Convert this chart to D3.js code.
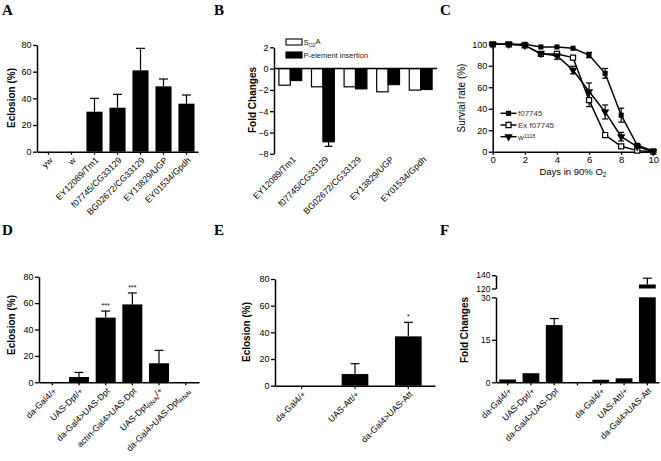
<!DOCTYPE html>
<html><head><meta charset="utf-8">
<script src="https://cdn.jsdelivr.net/npm/d3@7"></script>
<style>
body{margin:0;background:#fff;}
svg{display:block;font-family:"Liberation Sans",Arial,sans-serif;}
</style></head><body>
<svg id="c" width="661" height="461"></svg>
<script>
// ---------- DATA ----------
// Panel A
const catA = ["yw","w","EY12089/Tm1","f07745/CG33129","BG02672/CG33129","EY13829/UGP","EY01534/Gpdh"];
const valA = [0,0,30,33,61,49,36];
const errA = [0,0,10,10,16.5,5.5,6.5];
const ticksA = [0,20,40,60,80];
// Panel B
const catB = ["EY12089/Tm1","f07745/CG33129","BG02672/CG33129","EY13829/UGP","EY01534/Gpdh"];
const seriesB = ["S{O2}A","P-element insertion"];
const valB_SO2A = [-1.56,-1.71,-1.71,-2.18,-2.02];
const valB_P = [-1.12,-6.87,-1.9,-1.5,-1.96];
const errB_P = [0,0.43,0,0,0];
const ticksB = [2,0,-2,-4,-6,-8];
// Panel C
const daysC = [0,1,2,3,4,5,6,7,8,9,10];
const survF07745 = [100,100,100,97.5,97.5,96.3,90,73,34,6,0.6];
const errF07745 = [0,0,0,0,0,0,2.5,4.5,6.5,1.5,0];
const survEx = [100,100,99,91,91,87.6,48,15.5,5,1,0];
const errEx = [0,0,0,0,0,0,6,0,0,0,0];
const survW = [100,100,99,91.3,89.4,76,56,37,14,4.7,0];
const errW = [0,0,0,0,3.3,3.5,8,6.5,4,0,0];
const seriesC = ["f07745","Ex f07745","w^{1118}"];
const ticksCx = [0,2,4,6,8,10];
const ticksCy = [0,20,40,60,80,100];
// Panel D
const catD = ["da-Gal4/+","UAS-Dpt/+","da-Gal4>UAS-Dpt","actin-Gal4>UAS-Dpt","UAS-Dpt{RNAi}/+","da-Gal4>UAS-Dpt{RNAi}"];
const valD = [0,4,49,59,14.4,0];
const errD = [0,3.5,5,8.7,9.8,0];
const sigD = ["","","***","***","",""];
const ticksD = [0,20,40,60,80];
// Panel E
const catE = ["da-Gal4/+","UAS-Att/+","da-Gal4>UAS-Att"];
const valE = [0,8.75,37];
const errE = [0,7.75,10.5];
const sigE = ["","","*"];
const ticksE = [0,20,40,60,80];
// Panel F
const catF = ["da-Gal4/+","UAS-Dpt/+","da-Gal4>UAS-Dpt","","da-Gal4/+","UAS-Att/+","da-Gal4>UAS-Att"];
const valF = [1,3.2,20.2,null,0.9,1.4,126];
const errF = [0,0,2.3,0,0,0,9.5];
const ticksFlow = [0,15,30];
const ticksFhigh = [120,140];

// ---------- HELPERS ----------
const svg = d3.select("#c");
const FONT = "Liberation Sans, Arial, sans-serif";

function rich(textSel, str){
  const parts = str.split(/(\^\{[^}]*\}|\{[^}]*\})/).filter(s=>s.length);
  let shift = 0;
  parts.forEach(p=>{
    let t, target = 0, content = p, small=false;
    if (p.startsWith("^{")) { target = -0.35; content = p.slice(2,-1); small=true; }
    else if (p.startsWith("{")) { target = 0.3; content = p.slice(1,-1); small=true; }
    t = textSel.append("tspan").text(content);
    const d = target - shift;
    if (d !== 0) t.attr("dy", d + "em");
    shift = target;
    if (small) t.attr("font-size","70%");
  });
}

function styleAxis(g, fs){
  g.attr("font-family", FONT).attr("font-size", fs || 9);
  g.select(".domain").attr("stroke","#000").attr("stroke-width",1.5);
  g.selectAll(".tick line").attr("stroke","#000").attr("stroke-width",1.3);
  g.selectAll(".tick text").attr("fill","#000");
}

function letter(t, x, y){
  svg.append("text").attr("x",x).attr("y",y).attr("font-family","Liberation Serif, Times New Roman, serif")
    .attr("font-weight","bold").attr("font-size",15).text(t);
}

function yTitle(str, x, cy, bold){
  svg.append("text").attr("transform",`translate(${x},${cy}) rotate(-90)`)
    .attr("text-anchor","middle").attr("font-family",FONT).attr("font-size",10)
    .attr("font-weight", bold ? "bold" : "normal").text(str);
}

function xLabels(x, cats, y0, fs){
  cats.forEach((c,i)=>{
    if(!c) return;
    const cx = x(i) + x.bandwidth()/2;
    const t = svg.append("text").attr("transform",`translate(${cx+2.5},${y0+7}) rotate(-45)`)
      .attr("text-anchor","end").attr("dy","0.35em").attr("font-family",FONT).attr("font-size",fs||8.8);
    rich(t, c);
  });
}

function errBar(cx, yv, ye, cap){
  svg.append("line").attr("x1",cx).attr("x2",cx).attr("y1",yv).attr("y2",ye).attr("stroke","#000").attr("stroke-width",1.2);
  svg.append("line").attr("x1",cx-cap).attr("x2",cx+cap).attr("y1",ye).attr("y2",ye).attr("stroke","#000").attr("stroke-width",1.2);
}

function barPanel(o){
  const x = d3.scaleBand().domain(d3.range(o.cats.length)).range(o.xr).paddingInner(o.pi).paddingOuter(o.po);
  const y = d3.scaleLinear().domain(o.yd).range(o.yr);
  const bw = x.bandwidth();
  o.vals.forEach((v,i)=>{
    const cx = x(i)+bw/2;
    if (o.errs[i] > 0) errBar(cx, y(v), y(v+o.errs[i]), Math.min(4.5, bw/2.5));
    if (v > 0) svg.append("rect").attr("x",x(i)).attr("y",y(v)).attr("width",bw).attr("height",y(0)-y(v)).attr("fill","#000");
    if (o.sig && o.sig[i]) svg.append("text").attr("x",cx).attr("y",y(v+o.errs[i])-3).attr("text-anchor","middle")
        .attr("font-family",FONT).attr("font-size",7).text(o.sig[i]);
  });
  svg.append("g").attr("transform",`translate(0,${y(0)})`)
    .call(d3.axisBottom(x).tickSize(3).tickSizeOuter(0).tickFormat(""))
    .call(g=>styleAxis(g));
  svg.append("g").attr("transform",`translate(${o.xr[0]},0)`)
    .call(d3.axisLeft(y).tickValues(o.ticks).tickSize(4).tickSizeOuter(0).tickPadding(1.5))
    .call(g=>styleAxis(g));
  xLabels(x, o.cats, y(0));
}

// ---------- PANEL A ----------
letter("A", 2, 15);
barPanel({cats:catA, vals:valA, errs:errA, xr:[37,198], pi:0.3, po:0.15, yd:[0,80], yr:[151.7,45], ticks:ticksA});
yTitle("Eclosion (%)", 15, 98, true);

// ---------- PANEL B ----------
letter("B", 214, 15);
(function(){
  const x0 = d3.scaleBand().domain(d3.range(catB.length)).range([274,437]).paddingInner(0.3).paddingOuter(0.15);
  const x1 = d3.scaleBand().domain([0,1]).range([0,x0.bandwidth()]);
  const y = d3.scaleLinear().domain([-8,2]).range([153.8,47.3]);
  const fills = ["#fff","#000"];
  [valB_SO2A, valB_P].forEach((arr,s)=>{
    arr.forEach((v,i)=>{
      const bx = x0(i)+x1(s);
      if (s===1 && errB_P[i]>0) errBar(bx+x1.bandwidth()/2, y(v), y(v-errB_P[i]), 4);
      svg.append("rect").attr("x",bx).attr("y",y(0)).attr("width",x1.bandwidth()).attr("height",y(v)-y(0))
        .attr("fill",fills[s]).attr("stroke","#000").attr("stroke-width",1.2);
    });
  });
  svg.append("g").attr("transform",`translate(274,0)`)
    .call(d3.axisLeft(y).tickValues(ticksB).tickSize(4).tickSizeOuter(0).tickPadding(1.5))
    .call(g=>styleAxis(g));
  svg.append("line").attr("x1",274).attr("x2",437).attr("y1",y(0)).attr("y2",y(0)).attr("stroke","#000").attr("stroke-width",1.5);
  catB.forEach((c,i)=>{
    const cx = x0(i)+x0.bandwidth()/2;
    svg.append("text").attr("transform",`translate(${cx+4},${y(-8)+4}) rotate(-45)`)
      .attr("text-anchor","end").attr("dy","0.35em").attr("font-family",FONT).attr("font-size",8.8).text(c);
  });
  // legend
  seriesB.forEach((s,k)=>{
    const ly = 39 + k*13;
    svg.append("rect").attr("x",286).attr("y",ly).attr("width",16).attr("height",6)
      .attr("fill",fills[k]).attr("stroke","#000").attr("stroke-width",1.1);
    const t = svg.append("text").attr("x",303.5).attr("y",ly+6).attr("font-family",FONT).attr("font-size",7.5).attr("fill","#222");
    rich(t, s);
  });
  yTitle("Fold Changes", 256, 100, true);
})();

// ---------- PANEL C ----------
letter("C", 440, 15);
(function(){
  const x = d3.scaleLinear().domain([0,10]).range([492.7,653.3]);
  const y = d3.scaleLinear().domain([0,100]).range([151.7,44.3]);
  svg.append("g").attr("transform",`translate(0,${y(0)})`)
    .call(d3.axisBottom(x).tickValues(ticksCx).tickSize(3).tickSizeOuter(0).tickPadding(2))
    .call(g=>styleAxis(g,9.5));
  svg.append("g").attr("transform",`translate(${x(0)},0)`)
    .call(d3.axisLeft(y).tickValues(ticksCy).tickSize(4).tickSizeOuter(0).tickPadding(1.5))
    .call(g=>styleAxis(g,9));
  const series = [survF07745, survEx, survW];
  const errs = [errF07745, errEx, errW];
  const line = d3.line().x((d,i)=>x(daysC[i])).y(d=>y(d));
  series.forEach(s=>svg.append("path").attr("d",line(s)).attr("fill","none").attr("stroke","#000").attr("stroke-width",1.5));
  series.forEach((s,k)=>s.forEach((v,i)=>{
    if (errs[k][i]>0){
      const cx = x(daysC[i]);
      svg.append("line").attr("x1",cx).attr("x2",cx).attr("y1",y(v-errs[k][i])).attr("y2",y(v+errs[k][i])).attr("stroke","#000").attr("stroke-width",1.2);
      [v-errs[k][i], v+errs[k][i]].forEach(e=>svg.append("line").attr("x1",cx-3).attr("x2",cx+3).attr("y1",y(e)).attr("y2",y(e)).attr("stroke","#000").attr("stroke-width",1.2));
    }
  }));
  const sq = d3.symbol(d3.symbolSquare, 26);
  const tri = d3.symbol(d3.symbolTriangle, 30);
  function marker(k, cx, cy){
    if (k===0) svg.append("path").attr("d",sq()).attr("transform",`translate(${cx},${cy})`).attr("fill","#000");
    else if (k===1) svg.append("path").attr("d",sq()).attr("transform",`translate(${cx},${cy})`).attr("fill","#fff").attr("stroke","#000").attr("stroke-width",1.2);
    else svg.append("path").attr("d",tri()).attr("transform",`translate(${cx},${cy}) rotate(180)`).attr("fill","#000");
  }
  series.forEach((s,k)=>s.forEach((v,i)=>marker(k, x(daysC[i]), y(v))));
  seriesC.forEach((name,k)=>{
    const ly = 113.3 + k*11.7;
    svg.append("line").attr("x1",500.5).attr("x2",516.5).attr("y1",ly).attr("y2",ly).attr("stroke","#000").attr("stroke-width",1.5);
    marker(k, 508.5, ly);
    const t = svg.append("text").attr("x",518).attr("y",ly+3).attr("font-family",FONT).attr("font-size",8).attr("fill","#333");
    rich(t, name);
  });
  yTitle("Survial rate (%)", 465, 98, false);
  const t = svg.append("text").attr("x",573).attr("y",175).attr("text-anchor","middle").attr("font-family",FONT).attr("font-size",9.5);
  rich(t, "Days in 90% O{2}");
})();

// ---------- PANEL D ----------
letter("D", 2, 235);
barPanel({cats:catD, vals:valD, errs:errD, sig:sigD, xr:[39,199], pi:0.25, po:0.125, yd:[0,80], yr:[382.3,276.7], ticks:ticksD});
yTitle("Eclosion (%)", 15, 325, true);

// ---------- PANEL E ----------
letter("E", 214, 235);
barPanel({cats:catE, vals:valE, errs:errE, sig:sigE, xr:[275,435], pi:0.5, po:0.25, yd:[0,80], yr:[385.7,279], ticks:ticksE});
yTitle("Eclosion (%)", 250, 332, true);

// ---------- PANEL F ----------
letter("F", 440, 235);
(function(){
  const x = d3.scaleBand().domain(d3.range(catF.length)).range([496,659]).paddingInner(0.28).paddingOuter(0.14);
  const yLo = d3.scaleLinear().domain([0,30]).range([382.3,297.3]);
  const yHi = d3.scaleLinear().domain([120,140]).range([288.5,275.2]);
  const bw = x.bandwidth();
  valF.forEach((v,i)=>{
    if (v===null) return;
    const cx = x(i)+bw/2;
    if (v <= 30){
      if (errF[i]>0) errBar(cx, yLo(v), yLo(v+errF[i]), 4.5);
      svg.append("rect").attr("x",x(i)).attr("y",yLo(v)).attr("width",bw).attr("height",yLo(0)-yLo(v)).attr("fill","#000");
    } else {
      if (errF[i]>0) errBar(cx, yHi(v), yHi(v+errF[i]), 4.5);
      svg.append("rect").attr("x",x(i)).attr("y",yLo(30)).attr("width",bw).attr("height",yLo(0)-yLo(30)).attr("fill","#000");
      svg.append("rect").attr("x",x(i)).attr("y",yHi(v)).attr("width",bw).attr("height",yHi(120)-yHi(v)).attr("fill","#000");
    }
  });
  svg.append("g").attr("transform",`translate(0,${yLo(0)})`)
    .call(d3.axisBottom(x).tickSize(3).tickSizeOuter(0).tickFormat(""))
    .call(g=>styleAxis(g));
  svg.append("g").attr("transform",`translate(496,0)`)
    .call(d3.axisLeft(yLo).tickValues(ticksFlow).tickSize(4).tickSizeOuter(0).tickPadding(1.5))
    .call(g=>styleAxis(g,8.5));
  svg.append("g").attr("transform",`translate(496,0)`)
    .call(d3.axisLeft(yHi).tickValues(ticksFhigh).tickSize(4).tickSizeOuter(0).tickPadding(1.5))
    .call(g=>styleAxis(g,8.5));
  xLabels(x, catF, yLo(0));
  yTitle("Fold Changes", 468, 330, true);
})();
</script>
</body></html>
